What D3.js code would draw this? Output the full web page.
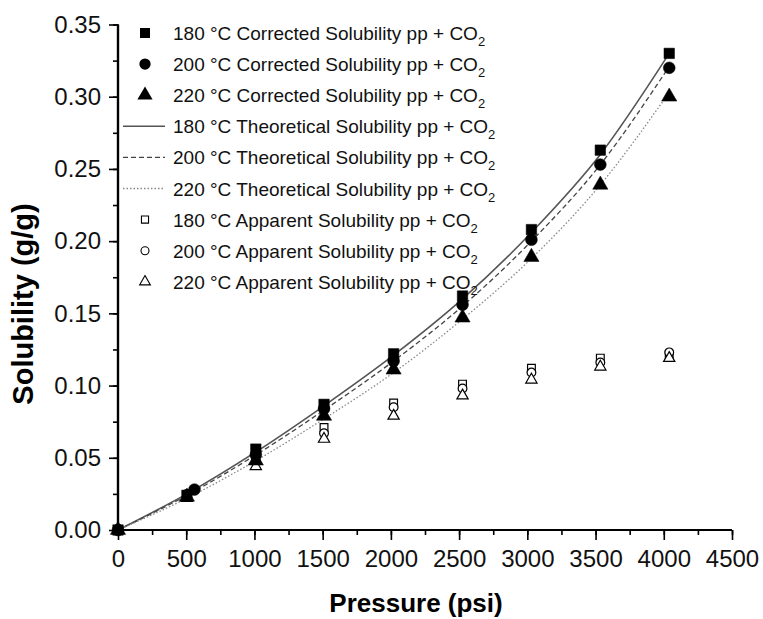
<!DOCTYPE html>
<html><head><meta charset="utf-8">
<script src="https://cdn.jsdelivr.net/npm/d3@7"></script>
<style>
html,body{margin:0;padding:0;background:#fff;}
svg{display:block;font-family:"Liberation Sans",Arial,sans-serif;}
</style></head><body>
<div id="chart"></div>
<script>
// ---- data ----
const pressure    = [0, 505, 1010, 1510, 2020, 2525, 3030, 3535, 4040];
const pressure200 = [0, 560, 1010, 1510, 2020, 2525, 3030, 3535, 4040];
const corrected180 = [0, 0.024, 0.056, 0.087, 0.122, 0.162, 0.208, 0.263, 0.330];
const corrected200 = [0, 0.028, 0.052, 0.084, 0.117, 0.156, 0.201, 0.253, 0.320];
const corrected220 = [0, 0.023, 0.048, 0.079, 0.111, 0.147, 0.189, 0.239, 0.300];
const theory180 = [0, 0.025, 0.054, 0.086, 0.121, 0.160, 0.206, 0.260, 0.330];
const theory200 = [0, 0.024, 0.052, 0.083, 0.117, 0.155, 0.200, 0.253, 0.321];
const theory220 = [0, 0.022, 0.048, 0.077, 0.109, 0.146, 0.188, 0.239, 0.303];
const apparentPressure = [505, 1010, 1510, 2020, 2525, 3030, 3535, 4040];
const apparent180 = [0.024, 0.051, 0.071, 0.088, 0.101, 0.112, 0.119, 0.121];
const apparent200 = [0.025, 0.048, 0.067, 0.085, 0.098, 0.109, 0.116, 0.123];
const apparent220 = [0.022, 0.044, 0.063, 0.079, 0.093, 0.104, 0.113, 0.119];
const xTicks = [0, 500, 1000, 1500, 2000, 2500, 3000, 3500, 4000, 4500];
const yTicks = [0, 0.05, 0.10, 0.15, 0.20, 0.25, 0.30, 0.35];
const legendLabels = [
  "180 °C Corrected Solubility pp + CO",
  "200 °C Corrected Solubility pp + CO",
  "220 °C Corrected Solubility pp + CO",
  "180 °C Theoretical Solubility pp + CO",
  "200 °C Theoretical Solubility pp + CO",
  "220 °C Theoretical Solubility pp + CO",
  "180 °C Apparent Solubility pp + CO",
  "200 °C Apparent Solubility pp + CO",
  "220 °C Apparent Solubility pp + CO"
];
const xTitle = "Pressure (psi)";
const yTitle = "Solubility (g/g)";

// ---- chart ----
const W = 763, H = 619;
const svg = d3.select("#chart").append("svg").attr("width", W).attr("height", H);
const x = d3.scaleLinear().domain([0, 4500]).range([118, 732]);
const y = d3.scaleLinear().domain([0, 0.35]).range([530, 24.5]);

// theoretical lines
const lineStyles = [
  {vals: theory180, stroke: "#555", dash: null, w: 1.6},
  {vals: theory200, stroke: "#444", dash: "5,3", w: 1.3},
  {vals: theory220, stroke: "#888", dash: "1.5,2", w: 1.3}
];
const lineGen = d3.line().curve(d3.curveMonotoneX);
lineStyles.forEach(s => {
  svg.append("path")
    .attr("d", lineGen(pressure.map((p, i) => [x(p), y(s.vals[i])])))
    .attr("fill", "none").attr("stroke", s.stroke).attr("stroke-width", s.w)
    .attr("stroke-dasharray", s.dash);
});

// symbols
const symSquare = d3.symbol().type(d3.symbolSquare);
const symCircle = d3.symbol().type(d3.symbolCircle);
const symTri = d3.symbol().type(d3.symbolTriangle);
function drawPoints(px, py, gen, size, filled) {
  svg.append("g").selectAll("path").data(px).join("path")
    .attr("transform", (d, i) => `translate(${x(d)},${y(py[i])})`)
    .attr("d", gen.size(size)())
    .attr("fill", filled ? "#000" : "#fff")
    .attr("stroke", "#000").attr("stroke-width", filled ? 0.5 : 1.2);
}
drawPoints(apparentPressure, apparent180, symSquare, 60, false);
drawPoints(apparentPressure, apparent200, symCircle, 60, false);
drawPoints(apparentPressure, apparent220, symTri, 55, false);
drawPoints(pressure, corrected180, symSquare, 110, true);
drawPoints(pressure200, corrected200, symCircle, 110, true);
drawPoints(pressure, corrected220, symTri, 100, true);

// axes
const gx = svg.append("g").attr("transform", "translate(0,530)");
gx.call(d3.axisBottom(x).tickValues(d3.range(0, 4501, 250)).tickSize(5).tickFormat(""));
gx.call(g => g.selectAll(".tick line").attr("stroke-width", 1.5));
const gx2 = svg.append("g").attr("transform", "translate(0,530)");
gx2.call(d3.axisBottom(x).tickValues(xTicks).tickSize(10).tickPadding(10).tickFormat(d3.format("d")));
[gx, gx2].forEach(g => {
  g.select(".domain").attr("stroke-width", 2.2).attr("d", `M${x(0)},0H${x(4500)}`);
  g.selectAll(".tick line").attr("stroke-width", 1.6);
});
gx2.selectAll(".tick text").attr("font-size", 24).attr("font-family", "Liberation Sans, Arial, sans-serif").attr("fill", "#111");

const gy = svg.append("g").attr("transform", "translate(118,0)");
gy.call(d3.axisLeft(y).tickValues(d3.range(0, 0.351, 0.025)).tickSize(5).tickFormat(""));
const gy2 = svg.append("g").attr("transform", "translate(118,0)");
gy2.call(d3.axisLeft(y).tickValues(yTicks).tickSize(9).tickPadding(8).tickFormat(d3.format(".2f")));
[gy, gy2].forEach(g => {
  g.select(".domain").attr("stroke-width", 2.2).attr("d", `M0,${y(0.35)}V${y(0)}`);
  g.selectAll(".tick line").attr("stroke-width", 1.6);
});
gy2.selectAll(".tick text").attr("font-size", 24).attr("font-family", "Liberation Sans, Arial, sans-serif").attr("fill", "#111");

// titles
svg.append("text").attr("x", 416).attr("y", 612).attr("text-anchor", "middle")
  .attr("font-size", 26).attr("font-weight", "bold").text(xTitle);
svg.append("text").attr("transform", "translate(33,304) rotate(-90)").attr("text-anchor", "middle")
  .attr("font-size", 29).attr("font-weight", "bold").text(yTitle);

// legend
const legendTop = 33, legendStep = 31.1;
const lg = svg.append("g");
legendLabels.forEach((lab, i) => {
  const cy = legendTop + i * legendStep;
  const cx = 145;
  if (i < 3) {
    const gen = [symSquare, symCircle, symTri][i];
    lg.append("path").attr("transform", `translate(${cx},${cy})`).attr("d", gen.size(100)()).attr("fill", "#000");
  } else if (i < 6) {
    const s = lineStyles[i - 3];
    lg.append("line").attr("x1", 123).attr("x2", 165).attr("y1", cy).attr("y2", cy)
      .attr("stroke", s.stroke).attr("stroke-width", s.w).attr("stroke-dasharray", s.dash);
  } else {
    const gen = [symSquare, symCircle, symTri][i - 6];
    lg.append("path").attr("transform", `translate(${cx},${cy})`).attr("d", gen.size(50)())
      .attr("fill", "#fff").attr("stroke", "#000").attr("stroke-width", 1.1);
  }
  const t = lg.append("text").attr("x", 173).attr("y", cy + 7).attr("font-size", 19).attr("fill", "#111");
  t.append("tspan").text(lab);
  t.append("tspan").attr("font-size", 13).attr("dy", 6).text("2");
});
</script>
</body></html>
